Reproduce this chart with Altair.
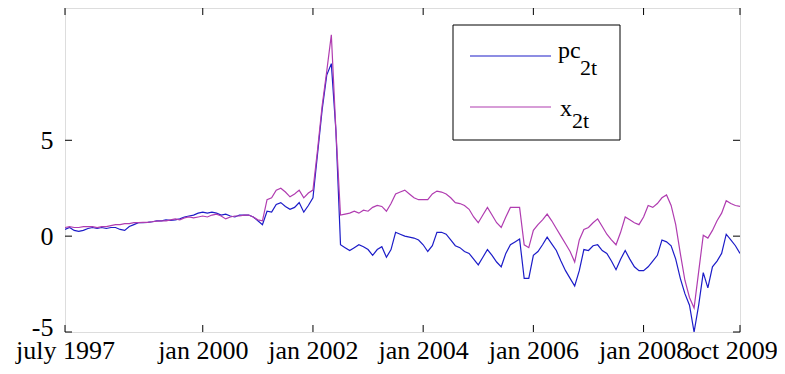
import altair as alt
import pandas as pd

# ---- data (monthly, july 1997 .. oct 2009) ----
x_tick_months = [0, 30, 54, 78, 102, 126, 147]
x_tick_labels = ["july 1997", "jan 2000", "jan 2002", "jan 2004",
                 "jan 2006", "jan 2008", "oct 2009"]
y_ticks = [-5, 0, 5]
series_names = ["pc", "x"]
legend_sub = ["2t", "2t"]

pc2t = [0.35, 0.45, 0.3, 0.25, 0.3, 0.4, 0.45, 0.4, 0.45, 0.4,
        0.45, 0.45, 0.35, 0.3, 0.5, 0.6, 0.7, 0.7, 0.72, 0.75,
        0.8, 0.8, 0.85, 0.82, 0.85, 0.9, 1.0, 1.05, 1.1, 1.2,
        1.25, 1.2, 1.25, 1.2, 1.1, 1.15, 1.05, 1.0, 1.1, 1.1,
        1.1, 1.0, 0.8, 0.6, 1.3, 1.25, 1.65, 1.75, 1.55, 1.4,
        1.5, 1.75, 1.25, 1.6, 2.0, 4.3, 6.6, 8.4, 9.0, 5.5,
        -0.45, -0.6, -0.75, -0.6, -0.45, -0.55, -0.7, -1.0, -0.7, -0.55,
        -1.1, -0.7, 0.2, 0.1, 0.0, -0.05, -0.1, -0.2, -0.45, -0.8,
        -0.5, 0.2, 0.2, 0.1, -0.2, -0.5, -0.6, -0.8, -0.9, -1.2,
        -1.5, -1.1, -0.7, -1.0, -1.35, -1.6, -0.9, -0.45, -0.3, -0.15,
        -2.2, -2.2, -1.0, -0.8, -0.45, -0.05, -0.4, -0.75, -1.3, -1.8,
        -2.2, -2.6, -1.8, -0.7, -0.75, -0.5, -0.45, -0.75, -0.9, -1.3,
        -1.75, -1.2, -0.75, -1.2, -1.6, -1.8, -1.8, -1.6, -1.3, -1.0,
        -0.2, -0.3, -0.5, -1.2, -2.2, -3.0, -3.6, -5.0, -3.6, -1.9,
        -2.7, -1.6, -1.3, -0.9, 0.1, -0.2, -0.5, -0.9]

x2t = [0.45, 0.5, 0.45, 0.45, 0.5, 0.5, 0.5, 0.45, 0.5, 0.5,
       0.55, 0.6, 0.6, 0.65, 0.65, 0.7, 0.7, 0.72, 0.72, 0.75,
       0.78, 0.8, 0.8, 0.85, 0.9, 0.85, 0.95, 1.0, 0.95, 1.0,
       1.05, 1.0, 1.1, 1.15, 1.05, 0.9, 1.0, 1.05, 1.05, 1.1,
       1.1, 1.0, 0.85, 0.8, 1.9, 2.0, 2.4, 2.5, 2.3, 2.05,
       2.2, 2.4, 2.0, 2.25, 2.4, 4.5, 6.8, 8.6, 10.5, 5.5,
       1.1, 1.15, 1.2, 1.3, 1.2, 1.35, 1.3, 1.5, 1.6, 1.55,
       1.3, 1.7, 2.2, 2.3, 2.4, 2.2, 2.0, 1.9, 1.9, 1.9,
       2.2, 2.35, 2.3, 2.2, 2.0, 1.75, 1.7, 1.6, 1.4, 1.0,
       0.7, 1.1, 1.5, 1.1, 0.7, 0.45, 1.0, 1.5, 1.5, 1.5,
       -0.45, -0.6, 0.3, 0.6, 0.85, 1.15, 0.8, 0.4, 0.0, -0.4,
       -0.8, -1.35, -0.2, 0.35, 0.45, 0.7, 0.9, 0.5, 0.1, -0.2,
       -0.45, 0.2, 1.0, 0.85, 0.7, 0.6, 1.0, 1.6, 1.5, 1.7,
       2.0, 2.15, 1.6, 0.6, -0.9, -2.3, -3.2, -3.75, -1.85, 0.05,
       -0.1, 0.3, 0.8, 1.2, 1.85, 1.7, 1.6, 1.55]

n = len(pc2t)
months = list(range(n))
df = pd.DataFrame({
    "t": months + months,
    "v": pc2t + x2t,
    "s": [series_names[0]] * n + [series_names[1]] * n,
})

BLUE = "#1c1cc8"
MAG = "#b03cb0"
FONT = "Liberation Serif"
W, H = 675, 324
PAD_L, PAD_R, PAD_T, PAD_B = 57, 37, 0, 32
TK = 7

xs = alt.Scale(domain=[0, 147], nice=False, zero=False)
ys = alt.Scale(domain=[-5, 11.9], nice=False, zero=False)

label_expr = ("{labels}[indexof({vals}, datum.value)]"
              .format(labels="[" + ",".join("'%s'" % s for s in x_tick_labels) + "]",
                      vals="[" + ",".join(str(v) for v in x_tick_months) + "]"))

lines = alt.Chart(df).mark_line(strokeWidth=1.2, clip=True).encode(
    x=alt.X("t:Q", scale=xs, axis=alt.Axis(
        values=x_tick_months, labelExpr=label_expr, ticks=False, tickSize=0,
        grid=False, title=None, domain=False, labelFont=FONT, labelFontSize=26,
        labelColor="black", labelPadding=5, labelOverlap=False,
        labelFlush=False, labelBound=False,
        labelOffset=alt.ExprRef(expr="datum.value == 147 ? -8 : 0"))),
    y=alt.Y("v:Q", scale=ys, axis=alt.Axis(
        values=y_ticks, ticks=False, tickSize=0, grid=False, title=None,
        domain=False, labelFont=FONT, labelFontSize=26, labelColor="black",
        labelPadding=12, minExtent=57, maxExtent=57, labelOverlap=False,
        labelFlush=False, labelBound=False,
        labelExpr="datum.value < 0 ? '-' + abs(datum.value) : '' + datum.value",
        labelOffset=alt.ExprRef(expr="datum.value == -5 ? -5 : 0"))),
    color=alt.Color("s:N", scale=alt.Scale(domain=series_names, range=[BLUE, MAG]),
                    legend=None),
)

ydf = pd.DataFrame({"v": y_ticks})
xdf = pd.DataFrame({"t": x_tick_months})

ytick_l = alt.Chart(ydf).mark_rule(color="black", strokeWidth=1).encode(
    y=alt.Y("v:Q", scale=ys), x=alt.value(0), x2=alt.value(TK))
ytick_r = alt.Chart(ydf).mark_rule(color="black", strokeWidth=1).encode(
    y=alt.Y("v:Q", scale=ys), x=alt.value(W - TK), x2=alt.value(W))
xtick_b = alt.Chart(xdf).mark_rule(color="black", strokeWidth=1).encode(
    x=alt.X("t:Q", scale=xs), y=alt.value(H - TK), y2=alt.value(H))
xtick_t = alt.Chart(xdf).mark_rule(color="black", strokeWidth=1).encode(
    x=alt.X("t:Q", scale=xs), y=alt.value(0), y2=alt.value(TK))

one = pd.DataFrame({"a": [0]})
leg_box = alt.Chart(one).mark_rect(fill="white", stroke="black", strokeWidth=1).encode(
    x=alt.value(388), x2=alt.value(555), y=alt.value(17), y2=alt.value(132))
leg_l1 = alt.Chart(one).mark_rule(color=BLUE, strokeWidth=1.2).encode(
    x=alt.value(405), x2=alt.value(486), y=alt.value(48))
leg_l2 = alt.Chart(one).mark_rule(color=MAG, strokeWidth=1.2).encode(
    x=alt.value(405), x2=alt.value(486), y=alt.value(99))

def txt(s, x, y, size):
    return alt.Chart(one).mark_text(align="left", baseline="alphabetic", font=FONT,
                                    fontSize=size, color="black").encode(
        x=alt.value(x), y=alt.value(y), text=alt.value(s))

leg_t = [
    txt(series_names[0], 493, 50, 24), txt(legend_sub[0], 515, 67, 22),
    txt(series_names[1], 495, 108, 24), txt(legend_sub[1], 507, 120, 22),
]

chart = alt.layer(
    lines, ytick_l, ytick_r, xtick_b, xtick_t, leg_box, leg_l1, leg_l2, *leg_t
).properties(
    width=W, height=H,
    autosize=alt.AutoSizeParams(type="none"),
    padding={"left": PAD_L, "top": PAD_T, "right": PAD_R, "bottom": PAD_B},
).configure_view(stroke="black", strokeWidth=1).configure(background="white", font=FONT)

chart.save("out.html", embed_options={"renderer": "svg", "actions": False})
